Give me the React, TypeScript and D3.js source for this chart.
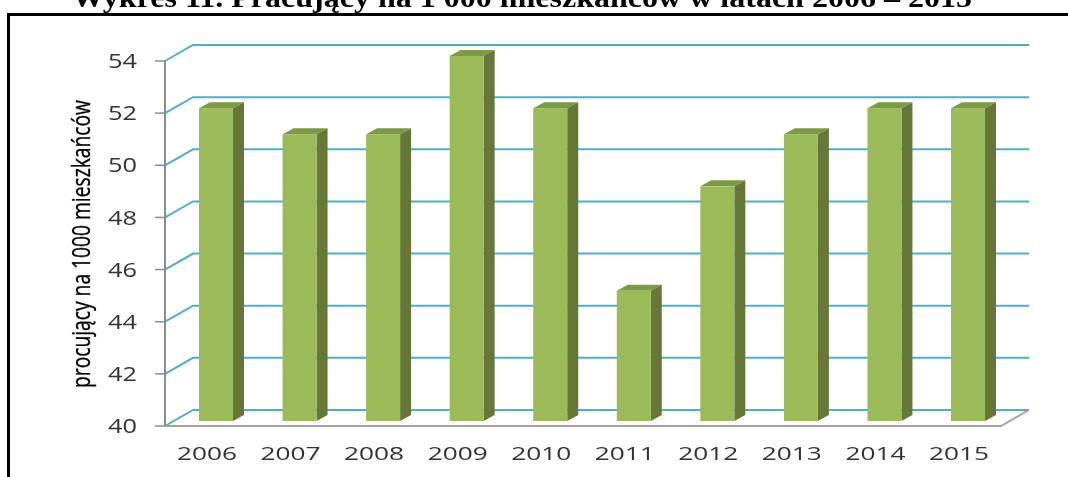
import { range, scaleLinear, scalePoint } from 'd3';

// Pseudo-3D column chart: front faces, tops and sides are offset polygons.
const years = ['2006', '2007', '2008', '2009', '2010', '2011', '2012', '2013', '2014', '2015'];
const workers = [52, 51, 51, 54, 52, 45, 49, 51, 52, 52];
const yTicks = range(40, 56, 2);

const title = 'Wykres 11. Pracujący na 1 000 mieszkańców w latach 2006 – 2015';
const yTitle = 'procujący na 1000 mieszkańców';

const W = 1068;
const H = 477;
const floorY = 426;
const topY = 61;
const wallDx = 27;
const wallDy = 16;
const barW = 34;
const sideDx = 11;
const sideDy = 6;
const barLift = 5;

export default function App() {
  const y = scaleLinear().domain([40, 54]).range([floorY, topY]);
  const x = scalePoint<string>().domain(years).range([207, 959]);
  const axisX = 165;
  const axisEnd = 1001;
  const h = (v: number) => y(v) - barLift;

  return (
    <svg width={W} height={H} viewBox={`0 0 ${W} ${H}`} style={{ position: 'absolute', left: 0, top: 0, background: '#fff' }}>
      {/* the source is an upscaled scan, so everything is slightly soft */}
      <defs>
        <filter id="soft" x="-2%" y="-2%" width="104%" height="104%">
          <feGaussianBlur stdDeviation={0.45} />
        </filter>
      </defs>
      <g filter="url(#soft)">
        <path d={`M8.5,${H} V14.5 H${W}`} fill="none" stroke="#000" strokeWidth={3} />
        <text
          x={522}
          y={7}
          textAnchor="middle"
          textLength={900}
          lengthAdjust="spacingAndGlyphs"
          fontFamily="Liberation Serif"
          fontWeight={700}
          fontSize={28}
          fill="#000"
        >
          {title}
        </text>

        {yTicks.map((t) => (
          <path
            key={t}
            d={`M${axisX},${y(t)} L${axisX + wallDx + 1},${y(t) - wallDy} H${axisEnd + wallDx + 1}`}
            fill="none"
            stroke="#4fafc9"
            strokeWidth={2}
          />
        ))}

        <path d={`M${axisX},${floorY} H${axisEnd} L${axisEnd + wallDx + 1},${floorY - wallDy}`} fill="none" stroke="#a3a3a3" strokeWidth={2} />
        <line x1={axisX} x2={axisX} y1={topY} y2={floorY} stroke="#8c8c8c" strokeWidth={2} />
        {yTicks.map((t) => (
          <g key={t}>
            <line x1={axisX - 10} x2={axisX} y1={y(t)} y2={y(t)} stroke="#8c8c8c" strokeWidth={1.5} />
            <text
              x={122.5}
              y={y(t)}
              dy="0.36em"
              textAnchor="middle"
              textLength={29}
              lengthAdjust="spacingAndGlyphs"
              fontFamily="Open Sans"
              fontSize={20}
              fill="#333"
            >
              {t}
            </text>
          </g>
        ))}

        {years.map((yr, i) => {
          const l = (x(yr) ?? 0) - 8;
          const r = l + barW;
          const t = h(workers[i]!);
          const b = h(40);
          return (
            <g key={yr}>
              <path d={`M${l},${t} L${l + sideDx},${t - sideDy} H${r + sideDx} L${r},${t} Z`} fill="#7e9945" />
              <path d={`M${r},${t} L${r + sideDx},${t - sideDy} V${b - sideDy} L${r},${b} Z`} fill="#657839" />
              <rect x={l} y={t} width={barW} height={b - t} fill="#9bbb59" />
              <text
                x={x(yr)}
                y={460}
                textAnchor="middle"
                textLength={60}
                lengthAdjust="spacingAndGlyphs"
                fontFamily="Open Sans"
                fontSize={19}
                fill="#333"
              >
                {yr}
              </text>
            </g>
          );
        })}

        <text
          transform={`translate(90,244) rotate(-90)`}
          textAnchor="middle"
          textLength={288}
          lengthAdjust="spacingAndGlyphs"
          fontFamily="Open Sans"
          fontSize={25}
          fill="#000"
          stroke="#000"
          strokeWidth={0.35}
        >
          {yTitle}
        </text>
      </g>
    </svg>
  );
}
